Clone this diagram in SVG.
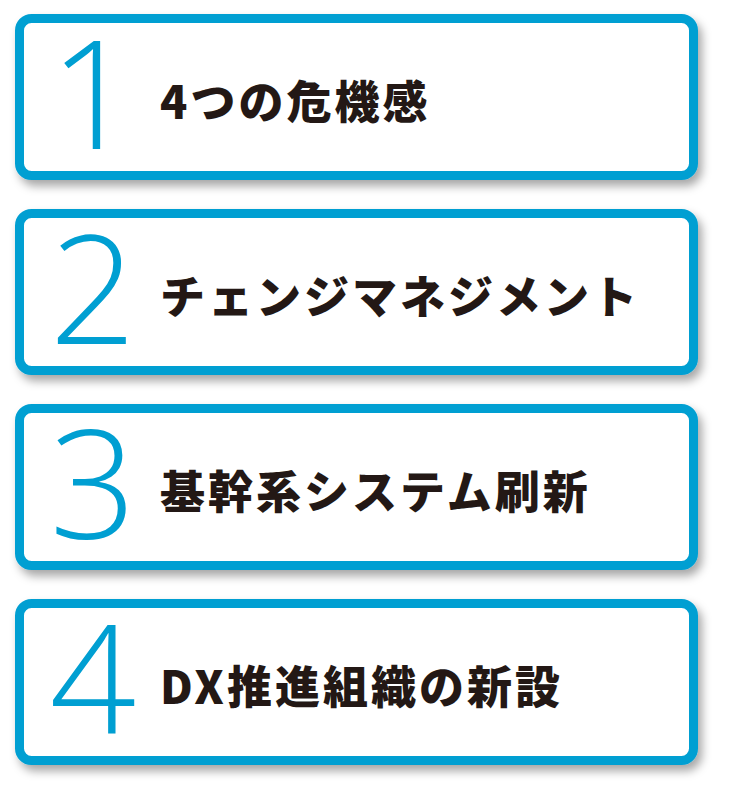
<svg xmlns="http://www.w3.org/2000/svg" width="734" height="799" viewBox="0 0 734 799">
<defs>
<filter id="sh" x="-5%" y="-10%" width="115%" height="135%"><feDropShadow dx="4" dy="6" stdDeviation="5" flood-color="#000" flood-opacity="0.35"/></filter>
<style>
.box{fill:#fff;stroke:#009fd2;stroke-width:9}
.num{font-family:"Open Sans","Liberation Sans",sans-serif;font-weight:300;font-size:152px;fill:#009fd2;text-anchor:middle}
.lbl{font-family:"Noto Sans CJK JP",sans-serif;font-weight:900;font-size:45px;letter-spacing:3px;fill:#231815}
</style>
</defs>
<rect width="734" height="799" fill="#fff"/>
<g id="n1"><rect class="box" x="19.5" y="18.5" width="674" height="157" rx="12" filter="url(#sh)"/><text class="num" x="93" y="149">1</text><text class="lbl" x="160" y="119">4つの危機感</text></g>
<g id="n2"><rect class="box" x="19.5" y="213.5" width="674" height="157" rx="12" filter="url(#sh)"/><text class="num" x="93" y="344">2</text><text class="lbl" x="160" y="314">チェンジマネジメント</text></g>
<g id="n3"><rect class="box" x="19.5" y="408.5" width="674" height="157" rx="12" filter="url(#sh)"/><text class="num" x="93" y="539">3</text><text class="lbl" x="160" y="509">基幹系システム刷新</text></g>
<g id="n4"><rect class="box" x="19.5" y="603.5" width="674" height="157" rx="12" filter="url(#sh)"/><text class="num" x="93" y="734">4</text><text class="lbl" x="160" y="704">DX推進組織の新設</text></g>
<g id="connectors"/>
</svg>
